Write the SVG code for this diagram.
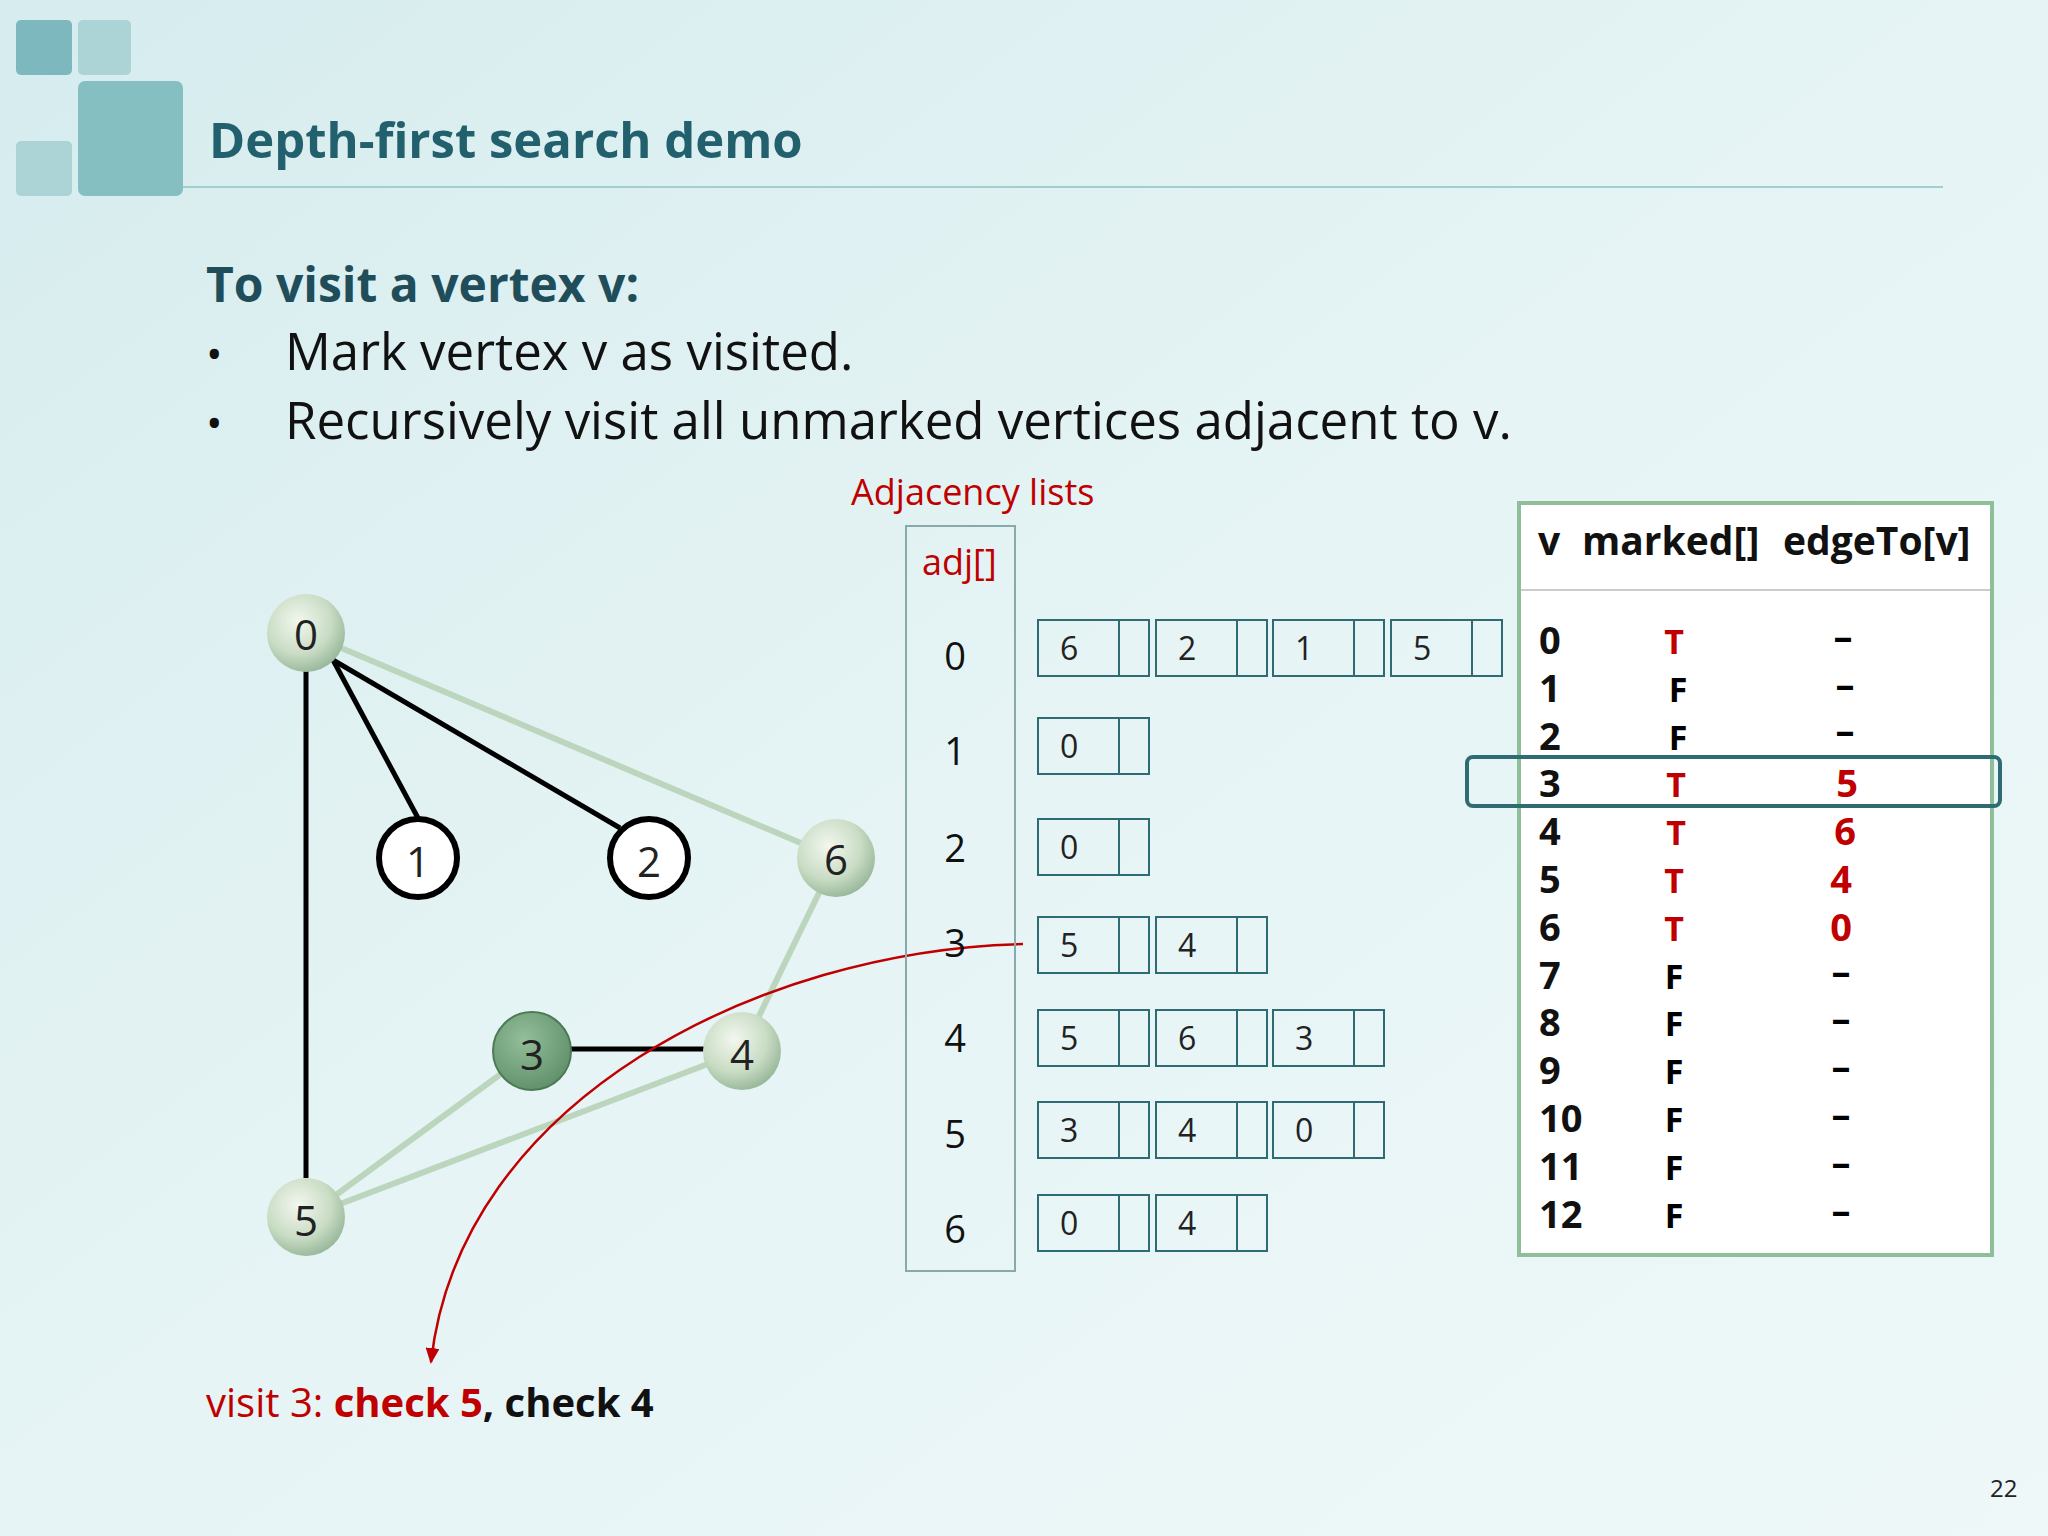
<svg xmlns="http://www.w3.org/2000/svg" width="2048" height="1536" viewBox="0 0 2048 1536">
<defs>
<linearGradient id="bg" x1="0" y1="0" x2="1" y2="1"><stop offset="0" stop-color="#d6ecee"/><stop offset="0.5" stop-color="#e6f4f5"/><stop offset="1" stop-color="#eef8f8"/></linearGradient>
<radialGradient id="ball" cx="0.4" cy="0.35" r="0.7"><stop offset="0" stop-color="#f2f7ef"/><stop offset="0.6" stop-color="#c9dcc4"/><stop offset="1" stop-color="#93b496"/></radialGradient>
<radialGradient id="ball3" cx="0.4" cy="0.35" r="0.7"><stop offset="0" stop-color="#93bf9b"/><stop offset="1" stop-color="#5f8f68"/></radialGradient>
<marker id="arr" markerWidth="16" markerHeight="14" refX="14" refY="7" orient="auto" markerUnits="userSpaceOnUse" viewBox="0 0 16 14"><path d="M0,0 L16,7 L0,14 Z" fill="#c00000"/></marker>
</defs>
<style>
text{font-family:"Open Sans","Liberation Sans",sans-serif}
.cell{fill:none;stroke:#2e6b73;stroke-width:2}
.ct{font-size:32px;fill:#222}
.idx{font-size:38px;fill:#111;text-anchor:middle}
.tv{font-size:38px;fill:#111;font-weight:bold}
.red{fill:#c00000}
.nl{font-size:42px;text-anchor:middle;dominant-baseline:central;fill:#222}
</style>
<rect width="2048" height="1536" fill="url(#bg)"/>
<rect x="16" y="20" width="56" height="55" rx="5" fill="#7db8bf"/>
<rect x="78" y="20" width="53" height="55" rx="5" fill="#acd3d5"/>
<rect x="78" y="81" width="105" height="115" rx="7" fill="#86bfc1"/>
<rect x="16" y="141" width="56" height="55" rx="5" fill="#acd3d5"/>
<line x1="183" y1="187" x2="1943" y2="187" stroke="#9fcfd1" stroke-width="2"/>
<text x="209" y="158" font-size="49" font-weight="bold" fill="#23606e">Depth-first search demo</text>
<text x="206" y="302" font-size="48" font-weight="bold" fill="#1f4e5a">To visit a vertex v:</text>
<text x="206" y="370" font-size="44" fill="#111">•</text>
<text x="285" y="370" font-size="51" fill="#111">Mark vertex v as visited.</text>
<text x="206" y="439" font-size="44" fill="#111">•</text>
<text x="285" y="439" font-size="51" fill="#111">Recursively visit all unmarked vertices adjacent to v.</text>
<text x="851" y="505" font-size="36" class="red">Adjacency lists</text>

<g id="edges">
<g stroke="#bcd6bd" stroke-width="6">
<line x1="306" y1="633" x2="836" y2="858"/><line x1="836" y1="858" x2="742" y2="1051"/>
<line x1="532" y1="1051" x2="306" y2="1217"/><line x1="742" y1="1051" x2="306" y2="1217"/>
</g>
<g stroke="#000" stroke-width="5">
<line x1="333" y1="660" x2="418" y2="818"/><line x1="333" y1="660" x2="620" y2="828"/>
<line x1="306" y1="633" x2="306" y2="1178"/><line x1="532" y1="1049" x2="742" y2="1049"/>
</g>
<path d="M1023,944 C760,950 460,1100 431,1362" fill="none" stroke="#c00000" stroke-width="2.5" marker-end="url(#arr)"/>
</g>
<g id="n0"><circle cx="306" cy="633" r="39" fill="url(#ball)"/><text x="306" y="633" class="nl">0</text></g>
<g id="n1"><circle cx="418" cy="858" r="39" fill="#fff" stroke="#000" stroke-width="6"/><text x="418" y="860" class="nl" font-size="36">1</text></g>
<g id="n2"><circle cx="649" cy="858" r="39" fill="#fff" stroke="#000" stroke-width="6"/><text x="649" y="860" class="nl" font-size="36">2</text></g>
<g id="n6"><circle cx="836" cy="858" r="39" fill="url(#ball)"/><text x="836" y="858" class="nl">6</text></g>
<g id="n3"><circle cx="532" cy="1051" r="39" fill="url(#ball3)" stroke="#4d7a55" stroke-width="2"/><text x="532" y="1053" class="nl" fill="#e6f0e6">3</text></g>
<g id="n4"><circle cx="742" cy="1051" r="39" fill="url(#ball)"/><text x="742" y="1053" class="nl">4</text></g>
<g id="n5"><circle cx="306" cy="1217" r="39" fill="url(#ball)"/><text x="306" y="1219" class="nl">5</text></g>

<g id="adj">
<rect x="906" y="526" width="109" height="745" fill="none" stroke="#8aa" stroke-width="2"/>
<text x="922" y="575" font-size="36" class="red">adj[]</text>
<text x="955" y="670" class="idx">0</text><text x="955" y="765" class="idx">1</text><text x="955" y="862" class="idx">2</text><text x="955" y="957" class="idx">3</text><text x="955" y="1052" class="idx">4</text><text x="955" y="1148" class="idx">5</text><text x="955" y="1243" class="idx">6</text>
</g>
<g id="lists">
<g transform="translate(1038,620)"><rect class="cell" width="111" height="56"/><line class="cell" x1="81" y1="0" x2="81" y2="56"/><text x="22" y="40" class="ct">6</text></g>
<g transform="translate(1156,620)"><rect class="cell" width="111" height="56"/><line class="cell" x1="81" y1="0" x2="81" y2="56"/><text x="22" y="40" class="ct">2</text></g>
<g transform="translate(1273,620)"><rect class="cell" width="111" height="56"/><line class="cell" x1="81" y1="0" x2="81" y2="56"/><text x="22" y="40" class="ct">1</text></g>
<g transform="translate(1391,620)"><rect class="cell" width="111" height="56"/><line class="cell" x1="81" y1="0" x2="81" y2="56"/><text x="22" y="40" class="ct">5</text></g>
<g transform="translate(1038,718)"><rect class="cell" width="111" height="56"/><line class="cell" x1="81" y1="0" x2="81" y2="56"/><text x="22" y="40" class="ct">0</text></g>
<g transform="translate(1038,819)"><rect class="cell" width="111" height="56"/><line class="cell" x1="81" y1="0" x2="81" y2="56"/><text x="22" y="40" class="ct">0</text></g>
<g transform="translate(1038,917)"><rect class="cell" width="111" height="56"/><line class="cell" x1="81" y1="0" x2="81" y2="56"/><text x="22" y="40" class="ct">5</text></g>
<g transform="translate(1156,917)"><rect class="cell" width="111" height="56"/><line class="cell" x1="81" y1="0" x2="81" y2="56"/><text x="22" y="40" class="ct">4</text></g>
<g transform="translate(1038,1010)"><rect class="cell" width="111" height="56"/><line class="cell" x1="81" y1="0" x2="81" y2="56"/><text x="22" y="40" class="ct">5</text></g>
<g transform="translate(1156,1010)"><rect class="cell" width="111" height="56"/><line class="cell" x1="81" y1="0" x2="81" y2="56"/><text x="22" y="40" class="ct">6</text></g>
<g transform="translate(1273,1010)"><rect class="cell" width="111" height="56"/><line class="cell" x1="81" y1="0" x2="81" y2="56"/><text x="22" y="40" class="ct">3</text></g>
<g transform="translate(1038,1102)"><rect class="cell" width="111" height="56"/><line class="cell" x1="81" y1="0" x2="81" y2="56"/><text x="22" y="40" class="ct">3</text></g>
<g transform="translate(1156,1102)"><rect class="cell" width="111" height="56"/><line class="cell" x1="81" y1="0" x2="81" y2="56"/><text x="22" y="40" class="ct">4</text></g>
<g transform="translate(1273,1102)"><rect class="cell" width="111" height="56"/><line class="cell" x1="81" y1="0" x2="81" y2="56"/><text x="22" y="40" class="ct">0</text></g>
<g transform="translate(1038,1195)"><rect class="cell" width="111" height="56"/><line class="cell" x1="81" y1="0" x2="81" y2="56"/><text x="22" y="40" class="ct">0</text></g>
<g transform="translate(1156,1195)"><rect class="cell" width="111" height="56"/><line class="cell" x1="81" y1="0" x2="81" y2="56"/><text x="22" y="40" class="ct">4</text></g>
</g>

<g id="table">
<rect x="1519" y="503" width="473" height="752" fill="#fff" stroke="#8fbf98" stroke-width="4"/>
<line x1="1521" y1="590" x2="1990" y2="590" stroke="#ccc" stroke-width="2"/>
<text x="1538" y="555" font-size="39" font-weight="bold" fill="#111">v</text>
<text x="1582" y="555" font-size="39" font-weight="bold" fill="#111">marked[]</text>
<text x="1783" y="555" font-size="39" font-weight="bold" fill="#111">edgeTo[v]</text>
<g class="tv">
<text x="1539" y="654">0</text><text x="1539" y="702">1</text><text x="1539" y="750">2</text><text x="1539" y="797">3</text><text x="1539" y="845">4</text><text x="1539" y="893">5</text><text x="1539" y="941">6</text><text x="1539" y="989">7</text><text x="1539" y="1036">8</text><text x="1539" y="1084">9</text><text x="1539" y="1132">10</text><text x="1539" y="1180">11</text><text x="1539" y="1228">12</text>
</g>
<g font-size="34" font-weight="bold" text-anchor="middle">
<text x="1674" y="654" class="red">T</text><text x="1678" y="702">F</text><text x="1678" y="750">F</text><text x="1676" y="797" class="red">T</text><text x="1676" y="845" class="red">T</text><text x="1674" y="893" class="red">T</text><text x="1674" y="941" class="red">T</text><text x="1674" y="989">F</text><text x="1674" y="1036">F</text><text x="1674" y="1084">F</text><text x="1674" y="1132">F</text><text x="1674" y="1180">F</text><text x="1674" y="1228">F</text>
</g>
<g font-size="38" font-weight="bold" text-anchor="middle">
<text x="1843" y="650">–</text><text x="1845" y="698">–</text><text x="1845" y="744">–</text><text x="1847" y="797" class="red">5</text><text x="1845" y="845" class="red">6</text><text x="1841" y="893" class="red">4</text><text x="1841" y="941" class="red">0</text><text x="1841" y="985">–</text><text x="1841" y="1032">–</text><text x="1841" y="1080">–</text><text x="1841" y="1128">–</text><text x="1841" y="1176">–</text><text x="1841" y="1224">–</text>
</g>
<rect x="1467" y="757" width="533" height="49" rx="6" fill="none" stroke="#2e6b73" stroke-width="4"/>
</g>
<text x="206" y="1417" font-size="40"><tspan class="red">visit 3: </tspan><tspan class="red" font-weight="bold">check 5</tspan><tspan font-weight="bold" fill="#111">, check 4</tspan></text>
<text x="1990" y="1497" font-size="24" fill="#222">22</text>
</svg>
